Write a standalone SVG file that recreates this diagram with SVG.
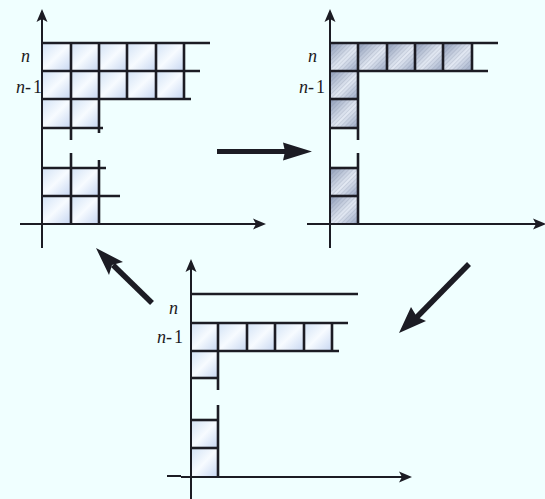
<svg xmlns="http://www.w3.org/2000/svg" width="545" height="499" viewBox="0 0 545 499">
<style>
.ax{stroke:#1c1c24;stroke-width:2;fill:none}
.g{stroke:#1c1c24;stroke-width:2.6;fill:none}
.c1 rect{fill:url(#lg1)}
.c2 rect{fill:url(#lg2)}
.h rect{fill:url(#hatch)}
.big{fill:#1c1c24;stroke:none}
.lab{font-family:'Liberation Serif','Times New Roman',serif;font-size:18px;fill:#1c1c24}
.it{font-style:italic}
</style>
<defs>
<linearGradient id="lg1" x1="0" y1="0" x2="1" y2="1">
<stop offset="0" stop-color="#d2e2f5"/>
<stop offset="0.5" stop-color="#f7fbff"/>
<stop offset="1" stop-color="#c6d6f1"/>
</linearGradient>
<linearGradient id="lg2" x1="0" y1="0" x2="1" y2="1">
<stop offset="0" stop-color="#8c9ab6"/>
<stop offset="0.55" stop-color="#e4eaf4"/>
<stop offset="1" stop-color="#98a6c2"/>
</linearGradient>
<pattern id="hatch" width="3" height="3" patternUnits="userSpaceOnUse" patternTransform="rotate(45)">
<line x1="0" y1="0" x2="0" y2="3" stroke="#6e7a94" stroke-width="0.7" stroke-opacity="0.55"/>
</pattern>
</defs>
<rect width="545" height="499" fill="#f0ffff"/>

<g id="panel1">
<g class="c1">
<rect x="42" y="43" width="29" height="28"/><rect x="71" y="43" width="28" height="28"/><rect x="99" y="43" width="28" height="28"/><rect x="127" y="43" width="29" height="28"/><rect x="156" y="43" width="28" height="28"/>
<rect x="42" y="71" width="29" height="28"/><rect x="71" y="71" width="28" height="28"/><rect x="99" y="71" width="28" height="28"/><rect x="127" y="71" width="29" height="28"/><rect x="156" y="71" width="28" height="28"/>
<rect x="42" y="99" width="29" height="29"/><rect x="71" y="99" width="28" height="29"/>
<rect x="42" y="168" width="29" height="28"/><rect x="71" y="168" width="28" height="28"/>
<rect x="42" y="196" width="29" height="28"/><rect x="71" y="196" width="28" height="28"/>
</g>
<line class="ax" x1="42" y1="248" x2="42" y2="18"/>
<path d="M42,9 L36.5,22 L42,19 L47.5,22 Z" fill="#1c1c24"/>
<line class="ax" x1="20" y1="224" x2="258" y2="224"/>
<path d="M266,224 L253,218.5 L256,224 L253,229.5 Z" fill="#1c1c24"/>
<g class="g">
<line x1="42" y1="43" x2="210" y2="43"/>
<line x1="42" y1="71" x2="200" y2="71"/>
<line x1="42" y1="99" x2="191" y2="99"/>
<line x1="42" y1="128" x2="103" y2="128"/>
<line x1="71" y1="43" x2="71" y2="140"/>
<line x1="99" y1="43" x2="99" y2="133"/>
<line x1="127" y1="43" x2="127" y2="99"/>
<line x1="156" y1="43" x2="156" y2="99"/>
<line x1="184" y1="43" x2="184" y2="99"/>
<line x1="71" y1="153" x2="71" y2="224"/>
<line x1="99" y1="160" x2="99" y2="224"/>
<line x1="42" y1="168" x2="106" y2="168"/>
<line x1="42" y1="196" x2="120" y2="196"/>
</g>
<text class="lab it" x="21" y="62">n</text>
<text class="lab" x="16" y="93"><tspan class="it">n</tspan>-<tspan dx="2">1</tspan></text>
</g>

<g id="panel2">
<g class="c2">
<rect x="330" y="43" width="28" height="28"/><rect x="358" y="43" width="29" height="28"/><rect x="387" y="43" width="28" height="28"/><rect x="415" y="43" width="28" height="28"/><rect x="443" y="43" width="29" height="28"/>
<rect x="330" y="71" width="28" height="28"/><rect x="330" y="99" width="28" height="29"/>
<rect x="330" y="168" width="28" height="28"/><rect x="330" y="196" width="28" height="28"/>
</g>
<g class="h">
<rect x="330" y="43" width="142" height="28"/>
<rect x="330" y="71" width="28" height="57"/>
<rect x="330" y="168" width="28" height="56"/>
</g>
<line class="ax" x1="330" y1="248" x2="330" y2="18"/>
<path d="M330,9 L324.5,22 L330,19 L335.5,22 Z" fill="#1c1c24"/>
<line class="ax" x1="307" y1="224" x2="538" y2="224"/>
<path d="M546,224 L533,218.5 L536,224 L533,229.5 Z" fill="#1c1c24"/>
<g class="g">
<line x1="330" y1="43" x2="498" y2="43"/>
<line x1="330" y1="71" x2="488" y2="71"/>
<line x1="330" y1="99" x2="358" y2="99"/>
<line x1="330" y1="128" x2="358" y2="128"/>
<line x1="358" y1="43" x2="358" y2="140"/>
<line x1="387" y1="43" x2="387" y2="71"/>
<line x1="415" y1="43" x2="415" y2="71"/>
<line x1="443" y1="43" x2="443" y2="71"/>
<line x1="472" y1="43" x2="472" y2="71"/>
<line x1="358" y1="153" x2="358" y2="224"/>
<line x1="330" y1="168" x2="358" y2="168"/>
<line x1="330" y1="196" x2="358" y2="196"/>
</g>
<text class="lab it" x="308" y="62">n</text>
<text class="lab" x="299" y="93"><tspan class="it">n</tspan>-<tspan dx="2">1</tspan></text>
</g>

<g id="panel3">
<g class="c1">
<rect x="191" y="323" width="27" height="28"/><rect x="218" y="323" width="29" height="28"/><rect x="247" y="323" width="28" height="28"/><rect x="275" y="323" width="29" height="28"/><rect x="304" y="323" width="28" height="28"/>
<rect x="191" y="351" width="27" height="27"/>
<rect x="191" y="420" width="27" height="28"/><rect x="191" y="448" width="27" height="29"/>
</g>
<line class="ax" x1="191" y1="499" x2="191" y2="268"/>
<path d="M191,259 L185.5,272 L191,269 L196.5,272 Z" fill="#1c1c24"/>
<line class="ax" x1="167" y1="476" x2="181" y2="476"/>
<line class="ax" x1="181" y1="477" x2="403" y2="477"/>
<path d="M412,477 L399,471.5 L402,477 L399,482.5 Z" fill="#1c1c24"/>
<g class="g">
<line x1="191" y1="294" x2="358" y2="294"/>
<line x1="191" y1="323" x2="348" y2="323"/>
<line x1="191" y1="351" x2="339" y2="351"/>
<line x1="191" y1="378" x2="218" y2="378"/>
<line x1="218" y1="323" x2="218" y2="390"/>
<line x1="247" y1="323" x2="247" y2="351"/>
<line x1="275" y1="323" x2="275" y2="351"/>
<line x1="304" y1="323" x2="304" y2="351"/>
<line x1="332" y1="323" x2="332" y2="351"/>
<line x1="218" y1="405" x2="218" y2="477"/>
<line x1="191" y1="420" x2="218" y2="420"/>
<line x1="191" y1="448" x2="218" y2="448"/>
</g>
<text class="lab it" x="169" y="314">n</text>
<text class="lab" x="157" y="343"><tspan class="it">n</tspan>-<tspan dx="2">1</tspan></text>
</g>

<g id="connectors">
<line x1="217" y1="151.5" x2="288" y2="151.5" stroke="#1c1c24" stroke-width="5"/>
<path d="M312,151.5 L283,142.5 L285,151.5 L283,160.5 Z" class="big"/>
<line x1="469" y1="264" x2="416" y2="318" stroke="#1c1c24" stroke-width="5.5"/>
<path d="M399,333 L411,307 L417,317 L426,321 Z" class="big"/>
<line x1="152" y1="303" x2="113" y2="265" stroke="#1c1c24" stroke-width="5.5"/>
<path d="M96,248 L123,262 L112,265 L109,275 Z" class="big"/>
</g>
</svg>
